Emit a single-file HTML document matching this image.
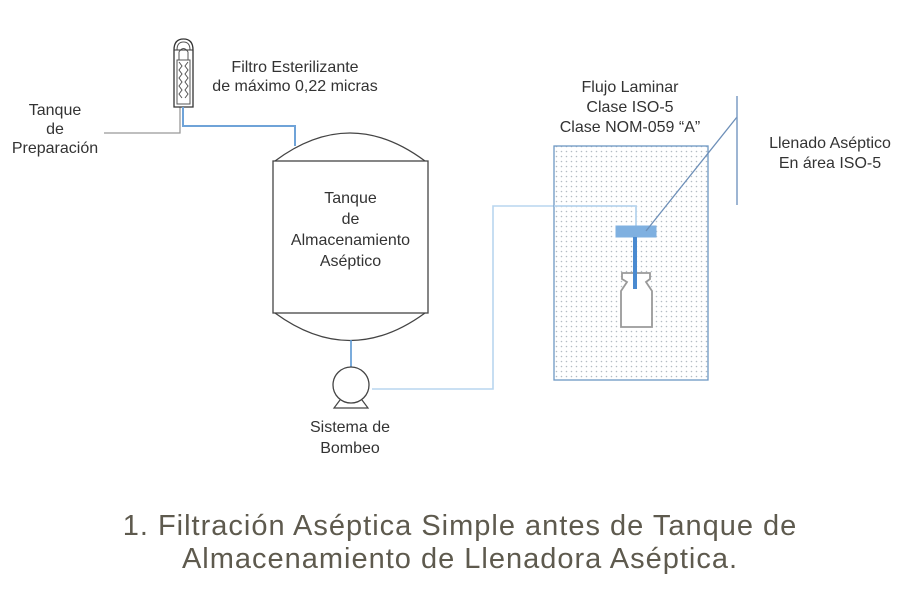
<!DOCTYPE html>
<html><head><meta charset="utf-8"><style>
html,body{margin:0;padding:0;background:#fff;}
body{width:920px;height:608px;overflow:hidden;position:relative;font-family:"Liberation Sans",sans-serif;}
.t{position:absolute;text-align:center;color:#333;font-size:16px;line-height:19px;}
.cap{position:absolute;left:0;width:920px;text-align:center;color:#5e5a4e;font-size:29px;line-height:33px;letter-spacing:1px;}
</style></head><body>
<svg width="920" height="608" style="position:absolute;left:0;top:0">
<defs>
<pattern id="dots" width="5" height="5" patternUnits="userSpaceOnUse">
<circle cx="1.5" cy="1.5" r="0.8" fill="#b4bcc4"/>
</pattern>
</defs>
<polyline points="104,133 180,133 180,107" fill="none" stroke="#999" stroke-width="1.3"/>
<path d="M174,50 Q174,39 183.5,39 Q193,39 193,50 L193,107 L174,107 Z" fill="#fff" stroke="#333" stroke-width="1.3"/>
<path d="M177,50 Q177,42 183.5,42 Q190,42 190,50" fill="none" stroke="#555" stroke-width="1"/>
<path d="M179,60 L179,52 Q183.5,45 188,52 L188,60 Z" fill="none" stroke="#555" stroke-width="1"/>
<line x1="174" y1="50" x2="193" y2="50" stroke="#333"/>
<rect x="177" y="60" width="13" height="44" fill="none" stroke="#555" stroke-width="1"/>
<path d="M179,62 l3,4 -3,4 3,4 -3,4 3,4 -3,4 3,4 -3,4 3,4 M188,62 l-3,4 3,4 -3,4 3,4 -3,4 3,4 -3,4 3,4 -3,4" fill="none" stroke="#555" stroke-width="1"/>
<polyline points="183,107 183,126 295,126 295,146" fill="none" stroke="#6fa3d8" stroke-width="2"/>
<path d="M275,161 Q350,105 425,161" fill="#fff" stroke="#444" stroke-width="1.3"/>
<path d="M275,313 Q350,368 425,313" fill="#fff" stroke="#444" stroke-width="1.3"/>
<rect x="273" y="161" width="155" height="152" fill="#fff" stroke="#444" stroke-width="1.3"/>
<line x1="351" y1="340" x2="351" y2="367" stroke="#5a97d4" stroke-width="1.6"/>
<path d="M340,400 L334,408 L368,408 L362,400" fill="#fff" stroke="#444" stroke-width="1.2"/>
<circle cx="351" cy="385" r="18" fill="#fff" stroke="#444" stroke-width="1.3"/>
<polyline points="372,389 493,389 493,206 636,206 636,226" fill="none" stroke="#b9d6ef" stroke-width="1.6"/>
<rect x="554" y="146" width="154" height="234" fill="url(#dots)" stroke="#6d97c4" stroke-width="1.3"/>
<polyline points="554,206 636,206 636,226" fill="none" stroke="#b9d6ef" stroke-width="1.6"/>
<path d="M622,273 L650,273 L650,279 L646,282 L652,291 L652,327 L621,327 L621,291 L627,282 L622,279 Z" fill="#fff" stroke="#999" stroke-width="1.8"/>
<rect x="616" y="226" width="40" height="11" fill="#7fb0e0" stroke="#7fb0e0"/>
<rect x="633" y="237" width="4" height="52" fill="#4a8ad0"/>
<line x1="646" y1="231" x2="737" y2="117" stroke="#6d8fb8" stroke-width="1.3"/>
<line x1="737" y1="96" x2="737" y2="205" stroke="#7c9cc4" stroke-width="1.5"/>
</svg>
<div class="t" style="left:5px;top:101px;width:100px;">Tanque<br>de<br>Preparación</div>
<div class="t" style="left:195px;top:58px;width:200px;">Filtro Esterilizante<br>de máximo 0,22 micras</div>
<div class="t" style="left:263px;top:188px;width:175px;line-height:21px;">Tanque<br>de<br>Almacenamiento<br>Aséptico</div>
<div class="t" style="left:285px;top:417px;width:130px;line-height:21px;">Sistema de<br>Bombeo</div>
<div class="t" style="left:530px;top:78px;width:200px;line-height:20px;">Flujo Laminar<br>Clase ISO-5<br>Clase NOM-059 “A”</div>
<div class="t" style="left:750px;top:134px;width:160px;line-height:20px;">Llenado Aséptico<br>En área ISO-5</div>
<div class="cap" style="top:510px;">1. Filtración Aséptica Simple antes de Tanque de</div>
<div class="cap" style="top:543px;">Almacenamiento de Llenadora Aséptica.</div>
</body></html>
